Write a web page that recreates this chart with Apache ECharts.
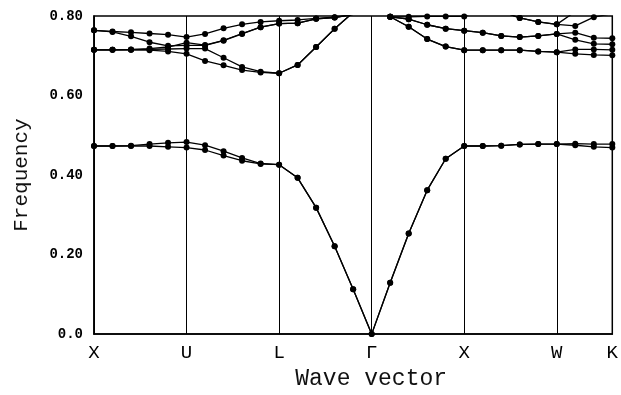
<!DOCTYPE html>
<html>
<head>
<meta charset="utf-8">
<script src="https://cdn.jsdelivr.net/npm/echarts@6/dist/echarts.min.js"></script>
<style>
  html, body { margin: 0; padding: 0; background: #fff; }
  #main { width: 621px; height: 395px; }
</style>
</head>
<body>
<div id="main"></div>
<script>
// k-path: 29 sample points, symmetry points at these indices
var kLabels = ['X', 'U', 'L', 'Γ', 'X', 'W', 'K'];
var kIndex = [0, 5, 10, 15, 20, 25, 28];
var yTicks = [0, 0.2, 0.4, 0.6, 0.8];

// two lowest bands
var band1 = [0.473,0.473,0.474,0.478,0.481,0.483, 0.475,0.460,0.443,0.429,0.426,
             0.393,0.318,0.221,0.113,0.0, 0.129,0.253,0.362,0.441,0.473,
             0.473,0.474,0.477,0.478,0.478, 0.479,0.478,0.478];
var band2 = [0.473,0.473,0.473,0.473,0.471,0.469, 0.463,0.449,0.436,0.428,0.426,
             0.393,0.318,0.221,0.113,0.0, 0.129,0.253,0.362,0.441,0.473,
             0.473,0.474,0.477,0.478,0.478, 0.475,0.471,0.469];
// upper bands (values above 0.80 run off the top of the plot)
var band3 = [0.764,0.761,0.759,0.756,0.753,0.747, 0.755,0.769,0.779,0.785,0.788,
             0.790,0.794,0.797,0.804,0.850, 0.798,0.798,0.799,0.799,0.799,
             0.820,0.812,0.795,0.785,0.779, 0.775,0.797,0.806];
var band4 = [0.764,0.760,0.749,0.734,0.725,0.726, 0.726,0.738,0.755,0.772,0.781,
             0.782,0.793,0.796,0.804,0.850, 0.798,0.792,0.778,0.768,0.763,
             0.758,0.750,0.747,0.750,0.755, 0.758,0.745,0.744];
var band5 = [0.715,0.715,0.716,0.718,0.722,0.733, 0.727,0.739,0.756,0.772,0.781,
             0.782,0.793,0.796,0.804,0.850, 0.798,0.773,0.742,0.723,0.714,
             0.714,0.714,0.714,0.711,0.709, 0.716,0.716,0.715];
var band6 = [0.715,0.715,0.715,0.716,0.717,0.718, 0.718,0.695,0.672,0.660,0.656,
             0.677,0.722,0.768,0.809,0.850, 0.798,0.792,0.778,0.768,0.763,
             0.758,0.750,0.747,0.750,0.755, 0.740,0.730,0.729];
var band7 = [0.715,0.715,0.715,0.714,0.711,0.705, 0.687,0.676,0.664,0.658,0.656,
             0.677,0.722,0.768,0.809,0.850, 0.798,0.773,0.742,0.723,0.714,
             0.714,0.714,0.714,0.711,0.709, 0.705,0.702,0.701];
var band8 = [null,null,null,null,null,null, null,null,null,null,null,
             null,null,null,null,null, null,null,null,null,null,
             null,0.812,0.795,0.785,0.779, 0.811,null,null];

var bands = [band1, band2, band3, band4, band5, band6, band7, band8];

var cats = [];
for (var i = 0; i <= 28; i++) cats.push(String(i));

var font = 'Liberation Mono';

var chart = echarts.init(document.getElementById('main'));
chart.setOption({
    animation: false,
    backgroundColor: '#fff',
    grid: {
        left: 94, right: 6, top: 16, bottom: 49,
        show: true, borderColor: '#000', borderWidth: 1.5
    },
    xAxis: {
        type: 'category',
        data: cats,
        boundaryGap: false,
        name: 'Wave vector',
        nameLocation: 'middle',
        nameGap: 30,
        nameTextStyle: { fontFamily: font, fontSize: 23, color: '#111', padding: [0, 0, 0, 36] },
        axisLine: { lineStyle: { color: '#000', width: 1.5 } },
        axisTick: { show: false },
        axisLabel: {
            interval: 0,
            margin: 9,
            fontFamily: font, fontSize: 19, color: '#000',
            formatter: function (v, idx) {
                var k = kIndex.indexOf(idx);
                return k >= 0 ? kLabels[k] : '';
            }
        },
        splitLine: {
            show: true,
            interval: function (idx) { return kIndex.indexOf(idx) >= 0; },
            lineStyle: { color: '#000', width: 1 }
        }
    },
    yAxis: {
        type: 'value',
        min: 0, max: 0.8, interval: 0.2,
        name: 'Frequency',
        nameLocation: 'middle',
        nameGap: 62,
        nameTextStyle: { fontFamily: font, fontSize: 21, color: '#111' },
        axisLine: { show: true, lineStyle: { color: '#000', width: 1.5 } },
        axisTick: { show: false },
        splitLine: { show: false },
        axisLabel: {
            margin: 11,
            fontFamily: font, fontSize: 14, fontWeight: 'bold', color: '#000',
            formatter: function (v) {
                return v === 0 ? '0.0' : v.toFixed(2);
            }
        }
    },
    series: bands.map(function (b) {
        return {
            type: 'line',
            data: b,
            clip: true,
            connectNulls: false,
            symbol: 'circle',
            symbolSize: 6,
            itemStyle: { color: '#000' },
            lineStyle: { color: '#000', width: 1.3 }
        };
    })
});
</script>
</body>
</html>
